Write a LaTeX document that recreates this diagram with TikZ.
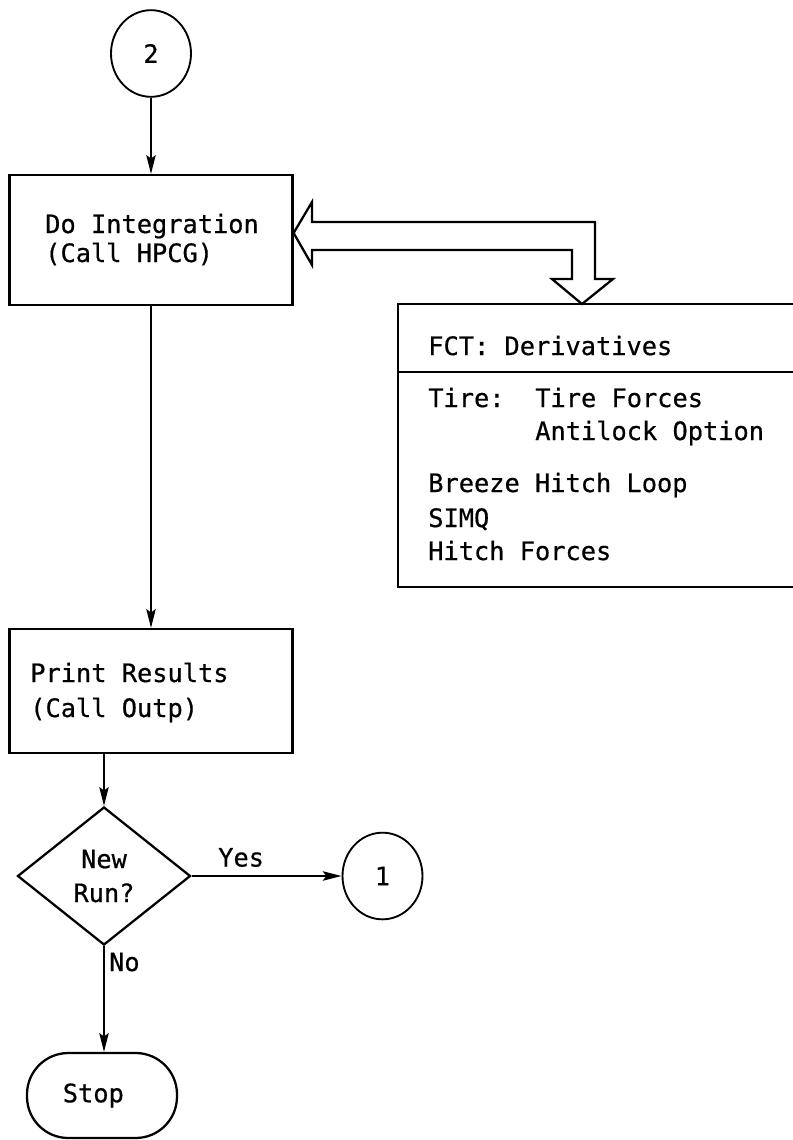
\documentclass[tikz,border=0pt]{standalone}
\usepackage{fontspec}
\setmonofont{DejaVu Sans Mono}[FakeBold=0.6]
\usetikzlibrary{shapes.geometric,arrows.meta,calc}
\begin{document}
\begin{tikzpicture}[x=0.75pt,y=-0.75pt,
  every node/.style={font=\ttfamily\frenchspacing\fontsize{19}{23}\selectfont},
  ln/.style={line width=1.7pt},
  procbox/.style={draw, ln, rectangle, minimum width=212.25pt, minimum height=97.5pt, inner sep=0pt},
  conn/.style={draw, line width=1.4pt, ellipse, minimum width=60pt, minimum height=65pt, inner sep=0pt},
  txt/.style={anchor=base west, inner sep=0pt},
  arr/.style={ln, -{Stealth[length=14pt,width=7pt,inset=2.5pt]}},
]
\useasboundingbox (0,0) rectangle (793,1140);

% connector 2
\node[conn] (c2) at (151,53.5) {2};

% process boxes
\node[procbox] (box1) at (151,240) {};
\node[txt] (t1a) at (45,233) {Do Integration};
\node[txt] (t1b) at (45,262) {(Call HPCG)};

\node[procbox, minimum height=93pt] (box2) at (151,691) {};
\node[txt] (t2a) at (30,682) {Print Results};
\node[txt] (t2b) at (30,717) {(Call Outp)};

% decision
\node[draw, ln, diamond, minimum width=129.75pt, minimum height=103.5pt, inner sep=0pt, align=center] (dia) at (104,876) {New\\[2.5pt]Run?};

% connector 1
\node[conn] (c1) at (382.5,876) {1};

% terminal
\node[draw, ln, rectangle, rounded corners=31pt, minimum width=112.5pt, minimum height=63.75pt, inner sep=0pt] (stop) at (102,1095.5) {Stop\hspace*{13pt}};

% FCT box (open on the right edge)
\coordinate (fct) at (582,304);
\draw[ln] (793,304) -- (398,304) -- (398,587) -- (793,587);
\draw[ln] (398,372) -- (793,372);
\node[txt] (f0) at (428,355) {FCT: Derivatives};
\node[txt] (f1) at (428,407) {Tire:};
\node[txt] (f1b) at (535,407) {Tire Forces};
\node[txt] (f2) at (535,440) {Antilock Option};
\node[txt] (f3) at (428,492) {Breeze Hitch Loop};
\node[txt] (f4) at (428,527) {SIMQ};
\node[txt] (f5) at (428,560) {Hitch Forces};

% hollow two-way arrow between box1 and FCT
\coordinate (tipL) at (box1.east |- 0,233);
\draw[ln, line join=miter] (tipL) -- (312,202) -- (312,222) -- (595,222) -- (595,279) -- (613,279)
  -- (fct) -- (552,279) -- (572,279) -- (572,250) -- (312,250) -- (312,265) -- cycle;

% flow arrows
\draw[arr] (c2) -- (box1);
\draw[arr] (box1) -- (box2);
\draw[arr] (dia.north |- box2.south) -- (dia.north);
\draw[arr] (dia.east) -- node[pos=0.33, above=6pt, inner sep=0pt] (yes) {Yes} (c1);
\draw[arr] (dia.south) -- node[pos=0.15, right=3pt, inner sep=0pt] (no) {No} (dia.south |- stop.north);
\end{tikzpicture}
\end{document}
